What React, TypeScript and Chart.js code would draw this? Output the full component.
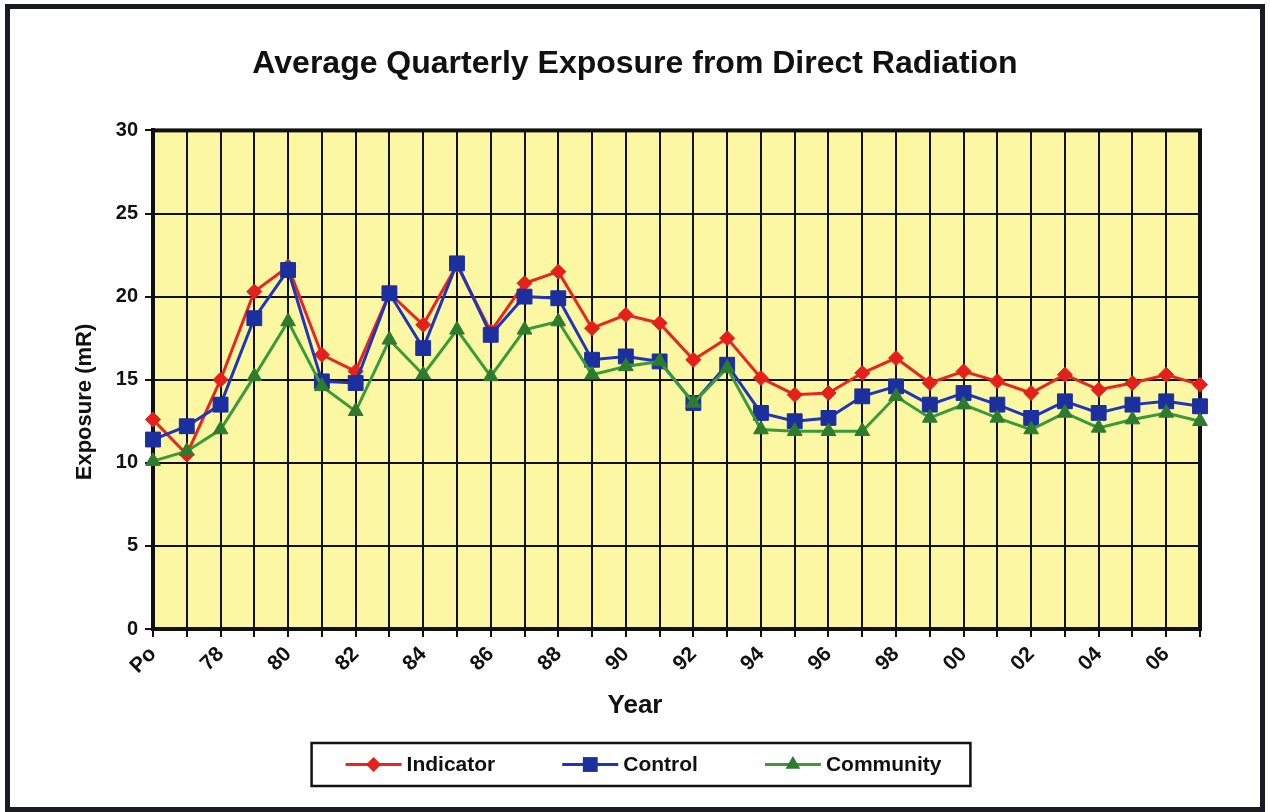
import React, { useEffect, useRef } from 'react';
import { Chart, registerables } from 'chart.js';

Chart.register(...registerables);

const labels = ['Po', '77', '78', '79', '80', '81', '82', '83', '84', '85', '86', '87', '88', '89', '90', '91', '92', '93', '94', '95', '96', '97', '98', '99', '00', '01', '02', '03', '04', '05', '06', '07'];

const indicator = [12.6, 10.5, 15.0, 20.3, 21.8, 16.5, 15.5, 20.2, 18.3, 21.9, 17.9, 20.8, 21.5, 18.1, 18.9, 18.4, 16.2, 17.5, 15.1, 14.1, 14.2, 15.4, 16.3, 14.8, 15.5, 14.9, 14.2, 15.3, 14.4, 14.8, 15.3, 14.7];
const control = [11.4, 12.2, 13.5, 18.7, 21.6, 14.9, 14.8, 20.2, 16.9, 22.0, 17.7, 20.0, 19.9, 16.2, 16.4, 16.1, 13.6, 15.9, 13.0, 12.5, 12.7, 14.0, 14.6, 13.5, 14.2, 13.5, 12.7, 13.7, 13.0, 13.5, 13.7, 13.4];
const community = [10.1, 10.7, 12.0, 15.2, 18.5, 14.6, 13.1, 17.4, 15.3, 18.0, 15.2, 18.0, 18.5, 15.3, 15.8, 16.1, 13.6, 15.7, 12.0, 11.9, 11.9, 11.9, 14.0, 12.7, 13.5, 12.7, 12.0, 13.0, 12.1, 12.6, 13.0, 12.5];

const seriesNames = ['Indicator', 'Control', 'Community'];
const yTicks = [0, 5, 10, 15, 20, 25, 30];
const titleText = 'Average Quarterly Exposure from Direct Radiation';
const xTitle = 'Year';
const yTitle = 'Exposure (mR)';

const FONT = "'Liberation Sans', Arial, Helvetica, sans-serif";
const INK = '#111111';
const PLOT_BG = '#FBF7A2';

const RED_LINE = '#E8261F';
const RED_MARK = '#E3201B';
const BLUE_LINE = '#2035B8';
const BLUE_MARK = '#1C2F9E';
const GREEN_LINE = '#3A9A3A';
const GREEN_MARK = '#2E7A2E';

function drawMarker(ctx: CanvasRenderingContext2D, style: string, x: number, y: number, r: number) {
  ctx.beginPath();
  if (style === 'rectRot') {
    ctx.moveTo(x, y - r);
    ctx.lineTo(x + r, y);
    ctx.lineTo(x, y + r);
    ctx.lineTo(x - r, y);
    ctx.closePath();
  } else if (style === 'rect') {
    const s = r * Math.SQRT1_2;
    ctx.rect(x - s, y - s, 2 * s, 2 * s);
  } else {
    const a = (2 * Math.PI) / 3;
    ctx.moveTo(x, y - r);
    ctx.lineTo(x + Math.sin(a) * r, y - Math.cos(a) * r);
    ctx.lineTo(x + Math.sin(2 * a) * r, y - Math.cos(2 * a) * r);
    ctx.closePath();
  }
  ctx.fill();
}

export default function App() {
  const ref = useRef<HTMLCanvasElement>(null);

  useEffect(() => {
    document.body.style.margin = '0';
    const canvas = ref.current;
    if (!canvas) return;

    const decor = {
      id: 'decor',
      beforeDraw(chart: any) {
        const { ctx, chartArea: a } = chart;
        ctx.save();
        ctx.fillStyle = '#ffffff';
        ctx.fillRect(0, 0, chart.width, chart.height);
        ctx.fillStyle = PLOT_BG;
        ctx.fillRect(a.left, a.top, a.right - a.left, a.bottom - a.top);
        ctx.restore();
      },
      beforeDatasetsDraw(chart: any) {
        const { ctx, chartArea: a } = chart;
        ctx.save();
        ctx.strokeStyle = INK;
        ctx.lineWidth = 4;
        ctx.strokeRect(a.left, a.top, a.right - a.left, a.bottom - a.top);
        ctx.restore();
      },
      afterDraw(chart: any) {
        const { ctx } = chart;
        ctx.save();
        // outer frame
        ctx.strokeStyle = '#1a1a22';
        ctx.lineWidth = 5;
        ctx.strokeRect(7.5, 6.5, chart.width - 15, chart.height - 9);

        // axis titles
        ctx.fillStyle = INK;
        ctx.textAlign = 'center';
        ctx.textBaseline = 'middle';
        ctx.font = `bold 26px ${FONT}`;
        ctx.fillText(xTitle, chart.width / 2, 706);
        ctx.save();
        ctx.translate(85, 402);
        ctx.rotate(-Math.PI / 2);
        ctx.font = `bold 22px ${FONT}`;
        ctx.fillText(yTitle, 0, 0);
        ctx.restore();

        // legend
        ctx.font = `bold 21px ${FONT}`;
        const ds = chart.data.datasets;
        const lineLen = 56;
        const gap = 5;
        const spacing = 67;
        const padL = 34;
        const padR = 29;
        const widths = ds.map((d: any) => ctx.measureText(d.label).width);
        let total = padL + padR + spacing * (ds.length - 1);
        widths.forEach((w: number) => { total += lineLen + gap + w; });
        const boxH = 43;
        const boxTop = 743;
        const left = chart.width / 2 + 6 - total / 2;
        ctx.fillStyle = '#ffffff';
        ctx.fillRect(left, boxTop, total, boxH);
        ctx.strokeStyle = INK;
        ctx.lineWidth = 2.5;
        ctx.strokeRect(left, boxTop, total, boxH);
        const cy = boxTop + boxH / 2;
        let x = left + padL;
        ds.forEach((d: any, i: number) => {
          ctx.strokeStyle = d.borderColor;
          ctx.lineWidth = 3;
          ctx.beginPath();
          ctx.moveTo(x, cy);
          ctx.lineTo(x + lineLen, cy);
          ctx.stroke();
          ctx.fillStyle = d.pointBackgroundColor;
          drawMarker(ctx, d.pointStyle, x + lineLen / 2, cy, d.pointRadius);
          ctx.fillStyle = INK;
          ctx.textBaseline = 'middle';
          ctx.textAlign = 'left';
          ctx.fillText(d.label, x + lineLen + gap, cy + 1);
          x += lineLen + gap + widths[i] + spacing;
        });
        ctx.restore();
      },
    };

    const chart = new Chart(canvas, {
      type: 'line',
      data: {
        labels,
        datasets: [
          {
            label: seriesNames[0],
            data: indicator,
            borderColor: RED_LINE,
            borderWidth: 3,
            pointStyle: 'rectRot',
            pointRadius: 7.5,
            pointBackgroundColor: RED_MARK,
            pointBorderColor: RED_MARK,
            pointBorderWidth: 1,
            tension: 0,
            order: 2,
          },
          {
            label: seriesNames[1],
            data: control,
            borderColor: BLUE_LINE,
            borderWidth: 3,
            pointStyle: 'rect',
            pointRadius: 10.5,
            pointBackgroundColor: BLUE_MARK,
            pointBorderColor: BLUE_MARK,
            pointBorderWidth: 1,
            tension: 0,
            order: 1,
          },
          {
            label: seriesNames[2],
            data: community,
            borderColor: GREEN_LINE,
            borderWidth: 3,
            pointStyle: 'triangle',
            pointRadius: 8.5,
            pointBackgroundColor: GREEN_MARK,
            pointBorderColor: GREEN_MARK,
            pointBorderWidth: 1,
            tension: 0,
            order: 0,
          },
        ],
      },
      options: {
        responsive: false,
        animation: false,
        layout: { padding: { left: 0, right: 0, top: 0, bottom: 91 } },
        plugins: {
          legend: { display: false },
          tooltip: { enabled: false },
          title: {
            display: true,
            text: titleText,
            color: INK,
            font: { family: FONT, size: 32, weight: 'bold' },
            padding: { top: 45, bottom: 47 },
          },
        },
        scales: {
          x: {
            type: 'category',
            offset: false,
            afterFit(scale: any) { scale.height = 92; },
            ticks: {
              autoSkip: false,
              maxRotation: 45,
              minRotation: 45,
              color: INK,
              padding: 5,
              font: { family: FONT, size: 21, weight: 'bold' },
              callback: (_v: any, i: number) => (i % 2 === 0 ? labels[i] : ''),
            },
            grid: { color: INK, lineWidth: 2, tickLength: 8, drawTicks: true },
            border: { display: true, color: INK, width: 4 },
          },
          y: {
            min: 0,
            max: 30,
            afterFit(scale: any) { scale.width = 153; },
            afterBuildTicks(scale: any) { scale.ticks = yTicks.map((v) => ({ value: v })); },
            ticks: {
              color: INK,
              padding: 7,
              font: { family: FONT, size: 20, weight: 'bold' },
            },
            grid: { color: INK, lineWidth: 2, tickLength: 8, drawTicks: true },
            border: { display: true, color: INK, width: 4 },
          },
          yRight: {
            type: 'linear',
            position: 'right',
            display: true,
            afterFit(scale: any) { scale.width = 70; },
            ticks: { display: false },
            grid: { display: false, drawOnChartArea: false },
            border: { display: false },
          },
        },
      },
      plugins: [decor],
    });

    return () => chart.destroy();
  }, []);

  return (
    <div style={{ width: 1270, height: 812 }}>
      <canvas ref={ref} width={1270} height={812} style={{ display: 'block' }} />
    </div>
  );
}
